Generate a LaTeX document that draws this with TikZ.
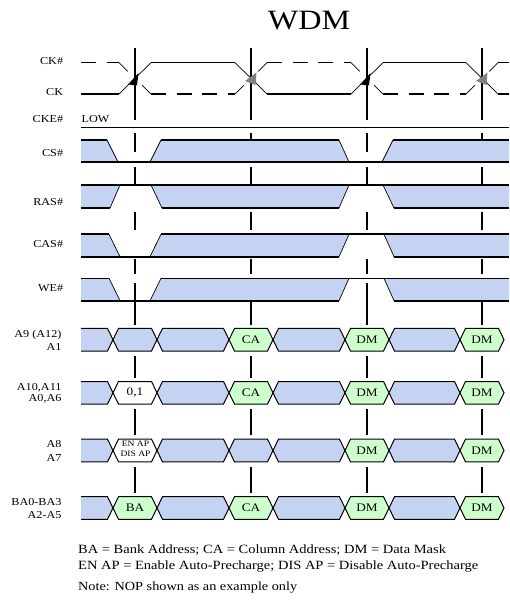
\documentclass[tikz,border=0pt]{standalone}
\usepackage{fontspec}
\setmainfont[FakeStretch=1.15]{Liberation Serif}
\usetikzlibrary{calc}
\definecolor{dcblue}{RGB}{197,211,243}
\definecolor{dcgreen}{RGB}{204,255,204}
\definecolor{dcgrey}{RGB}{128,128,128}
\tikzset{
  sig/.style={line width=1.6pt},
  thin edge/.style={line width=0.7pt},
  clkline/.style={line width=1.6pt},
  hexline/.style={line width=1pt},
  lbl/.style={font=\fontsize{10.6}{11}\selectfont, anchor=base east, inner sep=0pt},
  celltxt/.style={font=\fontsize{11.5}{12}\selectfont, inner sep=0pt},
  smalltxt/.style={font=\fontsize{8.3}{9}\selectfont, inner sep=0pt, anchor=base},
  legend/.style={font=\fontsize{12.6}{13}\selectfont, anchor=base west, inner sep=0pt},
}
% hexagon cell: #1 left tip x, #2 right tip x, #3 centre y, #4 fill colour, #5 node name, #6 text
\newcommand{\hexcell}[6]{%
  \filldraw[hexline, fill=#4] (#1,#3) -- ($(#1,#3)+(5.5,-11.3)$) -- ($(#2,#3)+(-5.5,-11.3)$) -- (#2,#3)
     -- ($(#2,#3)+(-5.5,11.3)$) -- ($(#1,#3)+(5.5,11.3)$) -- cycle;
  \node[celltxt] (#5) at ({(#1+#2)/2},#3) {#6};}
% open first cell of a row
\newcommand{\hexfirst}[2]{%
  \fill[dcblue] (81,#1-11.3) -- (#2-5.5,#1-11.3) -- (#2,#1) -- (#2-5.5,#1+11.3) -- (81,#1+11.3) -- cycle;
  \draw[hexline] (81,#1-11.3) -- (#2-5.5,#1-11.3) -- (#2,#1) -- (#2-5.5,#1+11.3) -- (81,#1+11.3);}
\begin{document}
\begin{tikzpicture}[x=1pt,y=-1pt]
\useasboundingbox (0,0) rectangle (509,609);

% title
\node[font=\fontsize{28}{30}\selectfont, anchor=base, inner sep=0pt] (title) at (309,29.3) {WDM};

% clock edge vertical lines
\foreach \c in {135,251,367,482}{
  \draw[clkline] (\c,48) -- (\c,120);
  \foreach \a/\b in {133/152,167/184,212/230,259/274,283/325,356/378,409/435,467/493}
    \draw[clkline] (\c,\a) -- (\c,\b);
}

% labels
\node[lbl] (lckn) at (63.3,65) {CK\#};
\node[lbl] (lck) at (63.3,95.5) {CK};
\node[lbl] (lcke) at (63.3,122.7) {CKE\#};
\node[lbl, anchor=base west] (llow) at (81.5,122.7) {LOW};
\node[lbl] (lcs) at (63.3,157) {CS\#};
\node[lbl] (lras) at (63.3,205.7) {RAS\#};
\node[lbl] (lcas) at (63.3,247.3) {CAS\#};
\node[lbl] (lwe) at (63.3,291.3) {WE\#};
\node[lbl] (la9) at (61.7,337) {A9 (A12)};
\node[lbl] (la1) at (61.7,350) {A1};
\node[lbl] (la10) at (61.7,390.7) {A10,A11};
\node[lbl] (la0) at (61.7,401) {A0,A6};
\node[lbl] (la8) at (61.7,447.3) {A8};
\node[lbl] (la7) at (61.7,461.3) {A7};
\node[lbl] (lba) at (61.7,505) {BA0-BA3};
\node[lbl] (la2) at (61.7,518.3) {A2-A5};

% CK (solid)
\draw[sig] (81,94) -- (119,94);
\draw[thin edge] (119,94) -- (151,62.7);
\draw[sig] (151,62.7) -- (235,62.7);
\draw[thin edge] (235,62.7) -- (267,94);
\draw[sig] (267,94) -- (351,94);
\draw[thin edge] (351,94) -- (383,62.7);
\draw[sig] (383,62.7) -- (466,62.7);
\draw[thin edge] (466,62.7) -- (498,94);
\draw[sig] (498,94) -- (509,94);
% CK# (dashed)
\draw[sig, dash pattern=on 15pt off 10.5pt] (81,62.7) -- (119,62.7);
\draw[sig, dash pattern=on 15pt off 10.5pt] (151,94) -- (235,94);
\draw[sig, dash pattern=on 15pt off 10.5pt] (267,62.7) -- (351,62.7);
\draw[sig, dash pattern=on 15pt off 10.5pt] (383,94) -- (466,94);
\draw[sig] (498,62.7) -- (509,62.7);
\foreach \xa/\ya/\xb/\yb in {119/62.7/151/94, 235/94/267/62.7, 351/62.7/383/94, 466/94/498/62.7}{
  \draw[thin edge] (\xa,\ya) -- ($(\xa,\ya)!0.28!(\xb,\yb)$);
  \draw[thin edge] (\xb,\yb) -- ($(\xb,\yb)!0.28!(\xa,\ya)$);
}
% crossing markers
\fill[black] (128,84.5) -- (138.5,73) -- (137,85.5) -- cycle;
\fill[black] (360,84.5) -- (370.5,73) -- (369,85.5) -- cycle;
\fill[dcgrey] (245,81) -- (256.5,72.5) -- (255.5,85) -- cycle;
\fill[dcgrey] (476,81) -- (487.5,72.5) -- (486.5,85) -- cycle;

% CKE#
\draw[sig] (81,127.7) -- (509,127.7);

% CS#
\fill[dcblue] (81,140) -- (107,140) -- (118,162) -- (81,162) -- cycle;
\fill[dcblue] (150,162) -- (161,140) -- (339,140) -- (349,162) -- cycle;
\fill[dcblue] (382,162) -- (393,140) -- (509,140) -- (509,162) -- cycle;
\draw[sig] (81,140) -- (107,140) (161,140) -- (339,140) (393,140) -- (509,140);
\draw[sig] (81,162) -- (509,162);
\draw[thin edge] (107,140) -- (118,162) (150,162) -- (161,140) (339,140) -- (349,162) (382,162) -- (393,140);

% RAS#
\fill[dcblue] (81,185) -- (120,185) -- (110,208) -- (81,208) -- cycle;
\fill[dcblue] (151,185) -- (349,185) -- (339,208) -- (162,208) -- cycle;
\fill[dcblue] (383,185) -- (509,185) -- (509,208) -- (394,208) -- cycle;
\draw[sig] (81,185) -- (509,185);
\draw[sig] (81,208) -- (110,208) (162,208) -- (339,208) (394,208) -- (509,208);
\draw[thin edge] (110,208) -- (120,185) (151,185) -- (162,208) (339,208) -- (349,185) (383,185) -- (394,208);

% CAS#
\fill[dcblue] (81,234.3) -- (109,234.3) -- (120,256.7) -- (81,256.7) -- cycle;
\fill[dcblue] (150,256.7) -- (161,234.3) -- (349,234.3) -- (339,256.7) -- cycle;
\fill[dcblue] (384,234.3) -- (509,234.3) -- (509,256.7) -- (394,256.7) -- cycle;
\draw[sig] (81,234.3) -- (109,234.3) (161,234.3) -- (509,234.3);
\draw[sig] (81,256.7) -- (339,256.7) (394,256.7) -- (509,256.7);
\draw[thin edge] (109,234.3) -- (120,256.7) (150,256.7) -- (161,234.3) (339,256.7) -- (349,234.3) (384,234.3) -- (394,256.7);

% WE#
\fill[dcblue] (81,278.3) -- (109,278.3) -- (120,300.7) -- (81,300.7) -- cycle;
\fill[dcblue] (150,300.7) -- (161,278.3) -- (349,278.3) -- (339,300.7) -- cycle;
\fill[dcblue] (384,278.3) -- (509,278.3) -- (509,300.7) -- (394,300.7) -- cycle;
\draw[sig] (81,278.3) -- (109,278.3) (161,278.3) -- (509,278.3);
\draw[sig] (81,300.7) -- (339,300.7) (394,300.7) -- (509,300.7);
\draw[thin edge] (109,278.3) -- (120,300.7) (150,300.7) -- (161,278.3) (339,300.7) -- (349,278.3) (384,278.3) -- (394,300.7);

% A9 (A12) / A1
\hexfirst{339.7}{113}
\hexcell{113}{157}{339.7}{dcblue}{a9c1}{}
\hexcell{157}{229}{339.7}{dcblue}{a9c2}{}
\hexcell{229}{273}{339.7}{dcgreen}{a9ca}{CA}
\hexcell{273}{345}{339.7}{dcblue}{a9c3}{}
\hexcell{345}{389}{339.7}{dcgreen}{a9dm1}{DM}
\hexcell{389}{460}{339.7}{dcblue}{a9c4}{}
\hexcell{460}{504}{339.7}{dcgreen}{a9dm2}{DM}

% A10,A11 / A0,A6
\hexfirst{392.8}{113}
\hexcell{113}{157}{392.8}{white}{a10c1}{0,1}
\hexcell{157}{229}{392.8}{dcblue}{a10c2}{}
\hexcell{229}{273}{392.8}{dcgreen}{a10ca}{CA}
\hexcell{273}{345}{392.8}{dcblue}{a10c3}{}
\hexcell{345}{389}{392.8}{dcgreen}{a10dm1}{DM}
\hexcell{389}{460}{392.8}{dcblue}{a10c4}{}
\hexcell{460}{504}{392.8}{dcgreen}{a10dm2}{DM}

% A8 / A7
\hexfirst{450.5}{113}
\hexcell{113}{157}{450.5}{white}{a8c1}{}
\node[smalltxt] (enap) at (135.5,446.5) {EN AP};
\node[smalltxt] (disap) at (135.5,456.5) {DIS AP};
\hexcell{157}{229}{450.5}{dcblue}{a8c2}{}
\hexcell{229}{273}{450.5}{dcblue}{a8c5}{}
\hexcell{273}{345}{450.5}{dcblue}{a8c3}{}
\hexcell{345}{389}{450.5}{dcgreen}{a8dm1}{DM}
\hexcell{389}{460}{450.5}{dcblue}{a8c4}{}
\hexcell{460}{504}{450.5}{dcgreen}{a8dm2}{DM}

% BA0-BA3 / A2-A5
\hexfirst{508}{113}
\hexcell{113}{157}{508}{dcgreen}{bab}{BA}
\hexcell{157}{229}{508}{dcblue}{bac2}{}
\hexcell{229}{273}{508}{dcgreen}{baca}{CA}
\hexcell{273}{345}{508}{dcblue}{bac3}{}
\hexcell{345}{389}{508}{dcgreen}{badm1}{DM}
\hexcell{389}{460}{508}{dcblue}{bac4}{}
\hexcell{460}{504}{508}{dcgreen}{badm2}{DM}

% legend
\node[legend] (leg1) at (78,553.3) {BA = Bank Address; CA = Column Address; DM = Data Mask};
\node[legend] (leg2) at (78,569.3) {EN AP = Enable Auto-Precharge; DIS AP = Disable Auto-Precharge};
\node[legend, font=\fontsize{12.4}{14}\selectfont] (note) at (78,590.7) {Note: NOP shown as an example only};
\end{tikzpicture}
\end{document}
